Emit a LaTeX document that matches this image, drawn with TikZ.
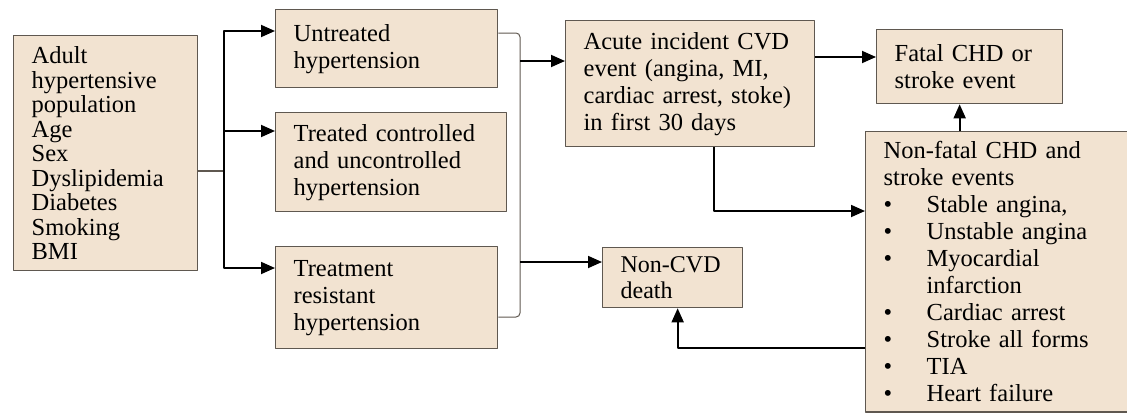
\documentclass[tikz,border=0pt]{standalone}
\usepackage{fontspec}
\setmainfont{Liberation Serif}
\usetikzlibrary{arrows.meta}
\definecolor{boxfill}{RGB}{242,227,209}
\definecolor{boxline}{RGB}{95,88,80}
\newcommand\listdot{\makebox[43pt][l]{\textbullet}}
\begin{document}
\begin{tikzpicture}[x=1pt, y=-1pt, line join=round,
    box/.style={draw=boxline, fill=boxfill, line width=1.3pt, anchor=north west, align=left,
        inner xsep=18pt, inner ysep=0pt, font=\fontsize{24.5}{27}\selectfont},
    arr/.style={line width=1.8pt, -{Triangle[length=14pt,width=12pt]}},
    thinline/.style={draw=boxline, line width=1.3pt}]
    \useasboundingbox (0,0) rectangle (1127,415);
    \clip (0,0) rectangle (1127,415);
    \node[box, text width=148pt, minimum height=235pt, font=\fontsize{24.5}{24.5}\selectfont] (pop) at (13,35)
        {Adult\\hypertensive\\population\\Age\\Sex\\Dyslipidemia\\Diabetes\\Smoking\\BMI};
    \node[box, text width=186pt, minimum height=78pt] (untr) at (275,9) {Untreated\\hypertension};
    \node[box, text width=195pt, minimum height=99pt] (treat) at (275,112) {Treated controlled\\and uncontrolled\\hypertension};
    \node[box, text width=186pt, minimum height=102pt] (resist) at (275,246) {Treatment\\resistant\\hypertension};
    \node[box, text width=213pt, minimum height=126pt] (acute) at (565,20)
        {Acute incident CVD\\event (angina, MI,\\cardiac arrest, stoke)\\in first 30 days};
    \node[box, text width=150pt, minimum height=74pt] (fatal) at (876,29) {Fatal CHD or\\stroke event};
    \node[box, text width=104pt, minimum height=60pt, font=\fontsize{24}{26}\selectfont] (noncvd) at (602,247) {Non-CVD\\death};
    \node[box, text width=264pt, inner ysep=10pt] (nonfatal) at (865,131)
        {Non-fatal CHD and\\stroke events\\
         \listdot Stable angina,\\
         \listdot Unstable angina\\
         \listdot Myocardial\\
         \hspace*{43pt}infarction\\
         \listdot Cardiac arrest\\
         \listdot Stroke all forms\\
         \listdot TIA\\
         \listdot Heart failure};

    \coordinate (split) at (224,171);
    \draw[thinline] (split -| pop.east) -- (split);
    \draw[arr] (split) |- ([yshift=-22pt]untr.north west);
    \draw[arr] (split) |- ([yshift=-19pt]treat.north west);
    \draw[arr] (split) |- ([yshift=-22pt]resist.north west);

    \coordinate (btop) at (520,33);
    \coordinate (bbot) at (520,317);
    \draw[thinline, line width=1pt, rounded corners=4pt] (btop -| untr.east) -- (btop) -- (bbot) -- (bbot -| resist.east);
    \coordinate (bacute) at (520,61);
    \coordinate (bdeath) at (520,262);
    \draw[arr] (bacute) -- (bacute -| acute.west);
    \draw[arr] (bdeath) -- (bdeath -| noncvd.west);

    \coordinate (fin) at ([yshift=-28pt]fatal.north west);
    \draw[arr] (fin -| acute.east) -- (fin);
    \coordinate (nfin) at ([yshift=-80pt]nonfatal.north west);
    \draw[arr] ([xshift=24pt]acute.south) |- (nfin);
    \coordinate (fbot) at ([xshift=-10pt]fatal.south);
    \draw[arr] (fbot |- nonfatal.north) -- (fbot);
    \coordinate (nfout) at ([yshift=-217pt]nonfatal.north west);
    \draw[arr] (nfout) -| ([xshift=5pt]noncvd.south);
\end{tikzpicture}
\end{document}
